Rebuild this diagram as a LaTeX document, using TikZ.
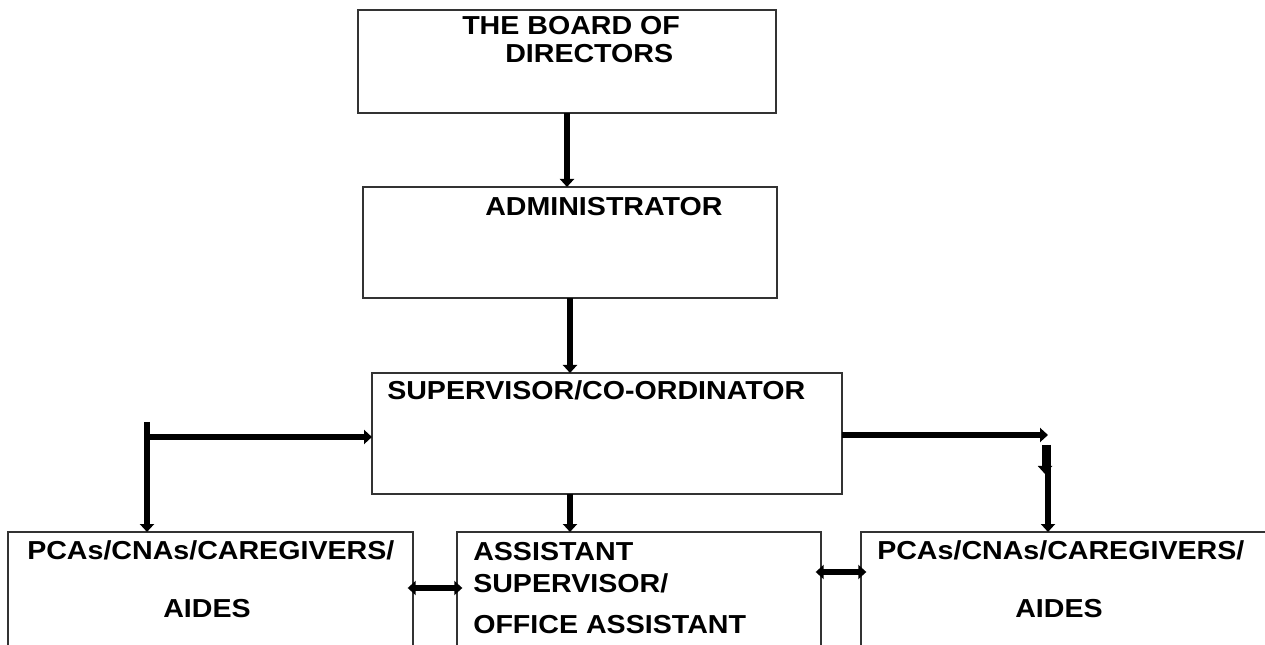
\documentclass[tikz,border=0pt]{standalone}
\usepackage{fontspec}
\setmainfont{Liberation Sans}[FakeStretch=1.1]
\usetikzlibrary{arrows.meta, positioning, calc}

\tikzset{
  box/.style={draw=black!80, line width=0.9pt, inner sep=0pt, outer sep=0pt, anchor=north west},
  lbl/.style={anchor=base west, inner sep=0pt, font=\fontsize{19.5}{23}\selectfont\bfseries},
  conn/.style={line width=4.5pt, -{Triangle[length=6pt,width=10.5pt]}},
  both/.style={line width=4.5pt, {Triangle[length=6pt,width=10.5pt]}-{Triangle[length=6pt,width=10.5pt]}}
}

\begin{document}
\begin{tikzpicture}[x=0.75pt, y=-0.75pt]
  \clip (0,0) rectangle (1265,645);

  % Boxes
  \node[box, minimum width=313.5pt, minimum height=77.25pt] (board) at (358,10) {};
  \node[box, minimum width=310.5pt, minimum height=83.25pt] (admin) at (363,187) {};
  \node[box, minimum width=352.5pt, minimum height=90.75pt] (sup) at (372,373) {};
  \node[box, minimum width=303.75pt, minimum height=150pt] (pcaL) at (8,532) {};
  \node[box, minimum width=273pt, minimum height=150pt] (asst) at (457,532) {};
  \node[box, minimum width=337.5pt, minimum height=150pt] (pcaR) at (861,532) {};

  % Texts
  \node[lbl] (boardA) at (462,35) {THE BOARD OF};
  \node[lbl] (boardB) at (505,63) {DIRECTORS};
  \node[lbl] (adminT) at (485,216) {ADMINISTRATOR};
  \node[lbl] (supT) at (387,400) {SUPERVISOR/CO-ORDINATOR};
  \node[lbl] (pcaLA) at (27,559) {PCAs/CNAs/CAREGIVERS/};
  \node[lbl] (pcaLB) at (163,617) {AIDES};
  \node[lbl] (asstA) at (473,561) {ASSISTANT};
  \node[lbl] (asstB) at (473,592) {SUPERVISOR/};
  \node[lbl] (asstC) at (473,633) {OFFICE ASSISTANT};
  \node[lbl] (pcaRA) at (877,559) {PCAs/CNAs/CAREGIVERS/};
  \node[lbl] (pcaRB) at (1015,617) {AIDES};

  % Down the chain
  \draw[conn] (board.south) -- (board.south |- admin.north);
  \draw[conn] (admin.south) -- (admin.south |- sup.north);
  \draw[conn] (sup.south -| admin.south) -- (asst.north -| admin.south);

  % Left branch
  \coordinate (ltop) at (147,422);
  \coordinate (ljoint) at (147,437);
  \draw[conn] (ljoint) -- (ljoint -| sup.west);
  \draw[conn] (ltop) -- (ltop |- pcaL.north);

  % Right branch
  \coordinate (rjoint) at (1048,435);
  \coordinate (rdown) at (1048,445);
  \coordinate (rmid) at (1045,445);
  \coordinate (rmidend) at (1045,474);
  \draw[conn] (sup.east |- rjoint) -- (rjoint);
  \draw[conn] (rmid) -- (rmidend);
  \draw[conn] (rdown) -- (rdown |- pcaR.north);

  % Side links
  \draw[both, shorten <=-4pt, shorten >=-4pt] ([yshift=-42pt]pcaL.north east) -- ([yshift=-42pt]asst.north west);
  \draw[both, shorten <=-4pt, shorten >=-4pt] ([yshift=-30pt]asst.north east) -- ([yshift=-30pt]pcaR.north west);
\end{tikzpicture}
\end{document}
